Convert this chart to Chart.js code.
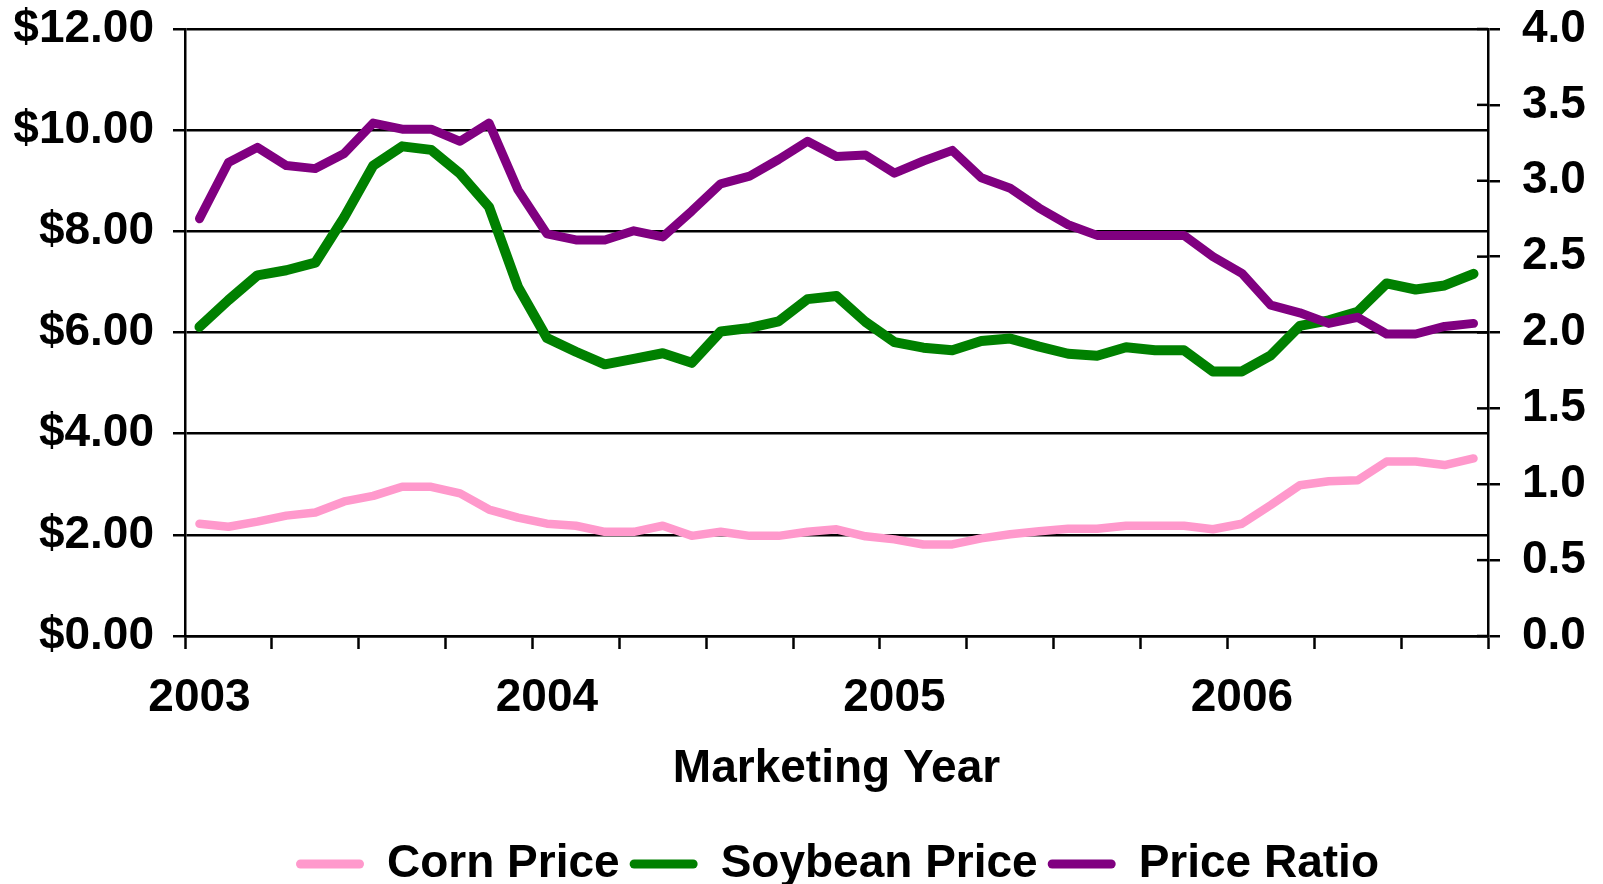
<!DOCTYPE html>
<html>
<head>
<meta charset="utf-8">
<title>Corn and Soybean Prices</title>
<script src="https://cdn.jsdelivr.net/npm/chart.js@4/dist/chart.umd.min.js"></script>
<style>
  html, body { margin: 0; padding: 0; background: #fff; }
  #wrap { width: 1603px; height: 884px; position: relative; }
</style>
</head>
<body>
<div id="wrap"><canvas id="priceChart"></canvas></div>
<script>
// monthly points, marketing years 2003-2006 (only year starts are labelled)
const categories = [
  '2003', '', '', '', '', '', '', '', '', '', '', '',
  '2004', '', '', '', '', '', '', '', '', '', '', '',
  '2005', '', '', '', '', '', '', '', '', '', '', '',
  '2006', '', '', '', '', '', '', '', ''
];

const cornPrice = [
  2.22, 2.16, 2.26, 2.38, 2.44, 2.66, 2.77, 2.95, 2.95, 2.82, 2.50, 2.34,
  2.22, 2.18, 2.06, 2.06, 2.18, 1.98, 2.06, 1.98, 1.98, 2.06, 2.11, 1.97,
  1.91, 1.81, 1.81, 1.93, 2.01, 2.07, 2.12, 2.12, 2.18, 2.18, 2.18, 2.11,
  2.22, 2.59, 2.98, 3.06, 3.08, 3.45, 3.45, 3.38, 3.51
];

const soybeanPrice = [
  6.11, 6.64, 7.13, 7.23, 7.38, 8.28, 9.30, 9.68, 9.61, 9.14, 8.48, 6.90,
  5.89, 5.62, 5.37, 5.48, 5.59, 5.40, 6.02, 6.09, 6.22, 6.66, 6.72, 6.21,
  5.81, 5.70, 5.65, 5.83, 5.88, 5.72, 5.58, 5.54, 5.71, 5.65, 5.65, 5.23,
  5.23, 5.55, 6.13, 6.24, 6.41, 6.97, 6.85, 6.93, 7.16
];

const priceRatio = [
  2.75, 3.12, 3.22, 3.10, 3.08, 3.18, 3.38, 3.34, 3.34, 3.26, 3.38, 2.94,
  2.65, 2.61, 2.61, 2.67, 2.63, 2.80, 2.98, 3.03, 3.14, 3.26, 3.16, 3.17,
  3.05, 3.13, 3.20, 3.02, 2.95, 2.82, 2.71, 2.64, 2.64, 2.64, 2.64, 2.50,
  2.39, 2.18, 2.13, 2.06, 2.10, 1.99, 1.99, 2.04, 2.06
];

const seriesNames = ['Corn Price', 'Soybean Price', 'Price Ratio'];
const seriesColors = ['#FF99CC', '#008000', '#800080'];

Chart.defaults.font.family = '"Liberation Sans", Arial, sans-serif';
Chart.defaults.font.weight = 'bold';
Chart.defaults.font.size = 46;
Chart.defaults.color = '#000';

// right axis ticks cross the axis line like the left ones
const crossTicks = {
  id: 'crossTicks',
  beforeDatasetsDraw(chart) {
    const s = chart.scales.y1;
    const ctx = chart.ctx;
    ctx.save();
    ctx.strokeStyle = '#000';
    ctx.lineWidth = 2.5;
    s.ticks.forEach(t => {
      const y = s.getPixelForValue(t.value);
      ctx.beginPath();
      ctx.moveTo(s.left - 11, y);
      ctx.lineTo(s.left, y);
      ctx.stroke();
    });
    ctx.restore();
  }
};

// legend sits a bit right of centre in the original
const legendShift = {
  id: 'legendShift',
  afterLayout(chart) {
    chart.legend.left += 36;
    chart.legend.right += 36;
  }
};

// fixed axis widths, and no extra room for the end labels
const fixWidth = w => s => {
  s.width = w;
  s.paddingTop = 0;
  s.paddingBottom = 0;
};

new Chart(document.getElementById('priceChart'), {
  type: 'line',
  data: {
    labels: categories,
    datasets: [
      {
        label: seriesNames[0], data: cornPrice, yAxisID: 'y', order: 2,
        borderColor: seriesColors[0], backgroundColor: seriesColors[0], borderWidth: 8.5
      },
      {
        label: seriesNames[1], data: soybeanPrice, yAxisID: 'y', order: 1,
        borderColor: seriesColors[1], backgroundColor: seriesColors[1], borderWidth: 10
      },
      {
        label: seriesNames[2], data: priceRatio, yAxisID: 'y1', order: 0,
        borderColor: seriesColors[2], backgroundColor: seriesColors[2], borderWidth: 9
      }
    ]
  },
  options: {
    responsive: true,
    maintainAspectRatio: false,
    animation: false,
    layout: { padding: { left: 0, right: 0, top: 29, bottom: -13 } },
    elements: {
      point: { radius: 0, hoverRadius: 0 },
      line: { tension: 0, borderCapStyle: 'round', borderJoinStyle: 'round' }
    },
    scales: {
      x: {
        type: 'category',
        offset: true,
        afterFit: s => { s.height = 195; },
        grid: {
          offset: true,
          drawOnChartArea: false,
          tickLength: 13,
          tickWidth: 2.5,
          tickColor: c => (c.index === undefined || c.index % 3 === 0) ? '#000' : 'rgba(0,0,0,0)'
        },
        border: { display: true, color: '#000', width: 2.5 },
        ticks: { autoSkip: false, maxRotation: 0, minRotation: 0, padding: 22 },
        title: {
          display: true,
          text: 'Marketing Year',
          font: { size: 46, weight: 'bold', lineHeight: 1 },
          padding: { top: 0, bottom: 39 }
        }
      },
      y: {
        position: 'left',
        min: 0,
        max: 12,
        afterFit: fixWidth(185),
        grid: { color: '#000', lineWidth: 2.5, tickLength: 12 },
        border: { display: true, color: '#000', width: 2.5 },
        ticks: { stepSize: 2, padding: 19, callback: v => '$' + Number(v).toFixed(2) }
      },
      y1: {
        position: 'right',
        min: 0,
        max: 4,
        afterFit: fixWidth(115),
        grid: { drawOnChartArea: false, color: '#000', lineWidth: 2.5, tickLength: 12 },
        border: { display: true, color: '#000', width: 2.5 },
        ticks: { stepSize: 0.5, padding: 22, callback: v => Number(v).toFixed(1) }
      }
    },
    plugins: {
      tooltip: { enabled: false },
      legend: {
        position: 'bottom',
        labels: {
          boxWidth: 68,
          boxHeight: 9,
          padding: 10,
          useBorderRadius: true,
          borderRadius: 4.5,
          font: { size: 46, weight: 'bold' },
          sort: (a, b) => a.datasetIndex - b.datasetIndex,
          generateLabels: chart => Chart.defaults.plugins.legend.labels.generateLabels(chart)
            .map(item => Object.assign(item, { lineWidth: 0 }))
        }
      }
    }
  },
  plugins: [crossTicks, legendShift]
});
</script>
</body>
</html>
